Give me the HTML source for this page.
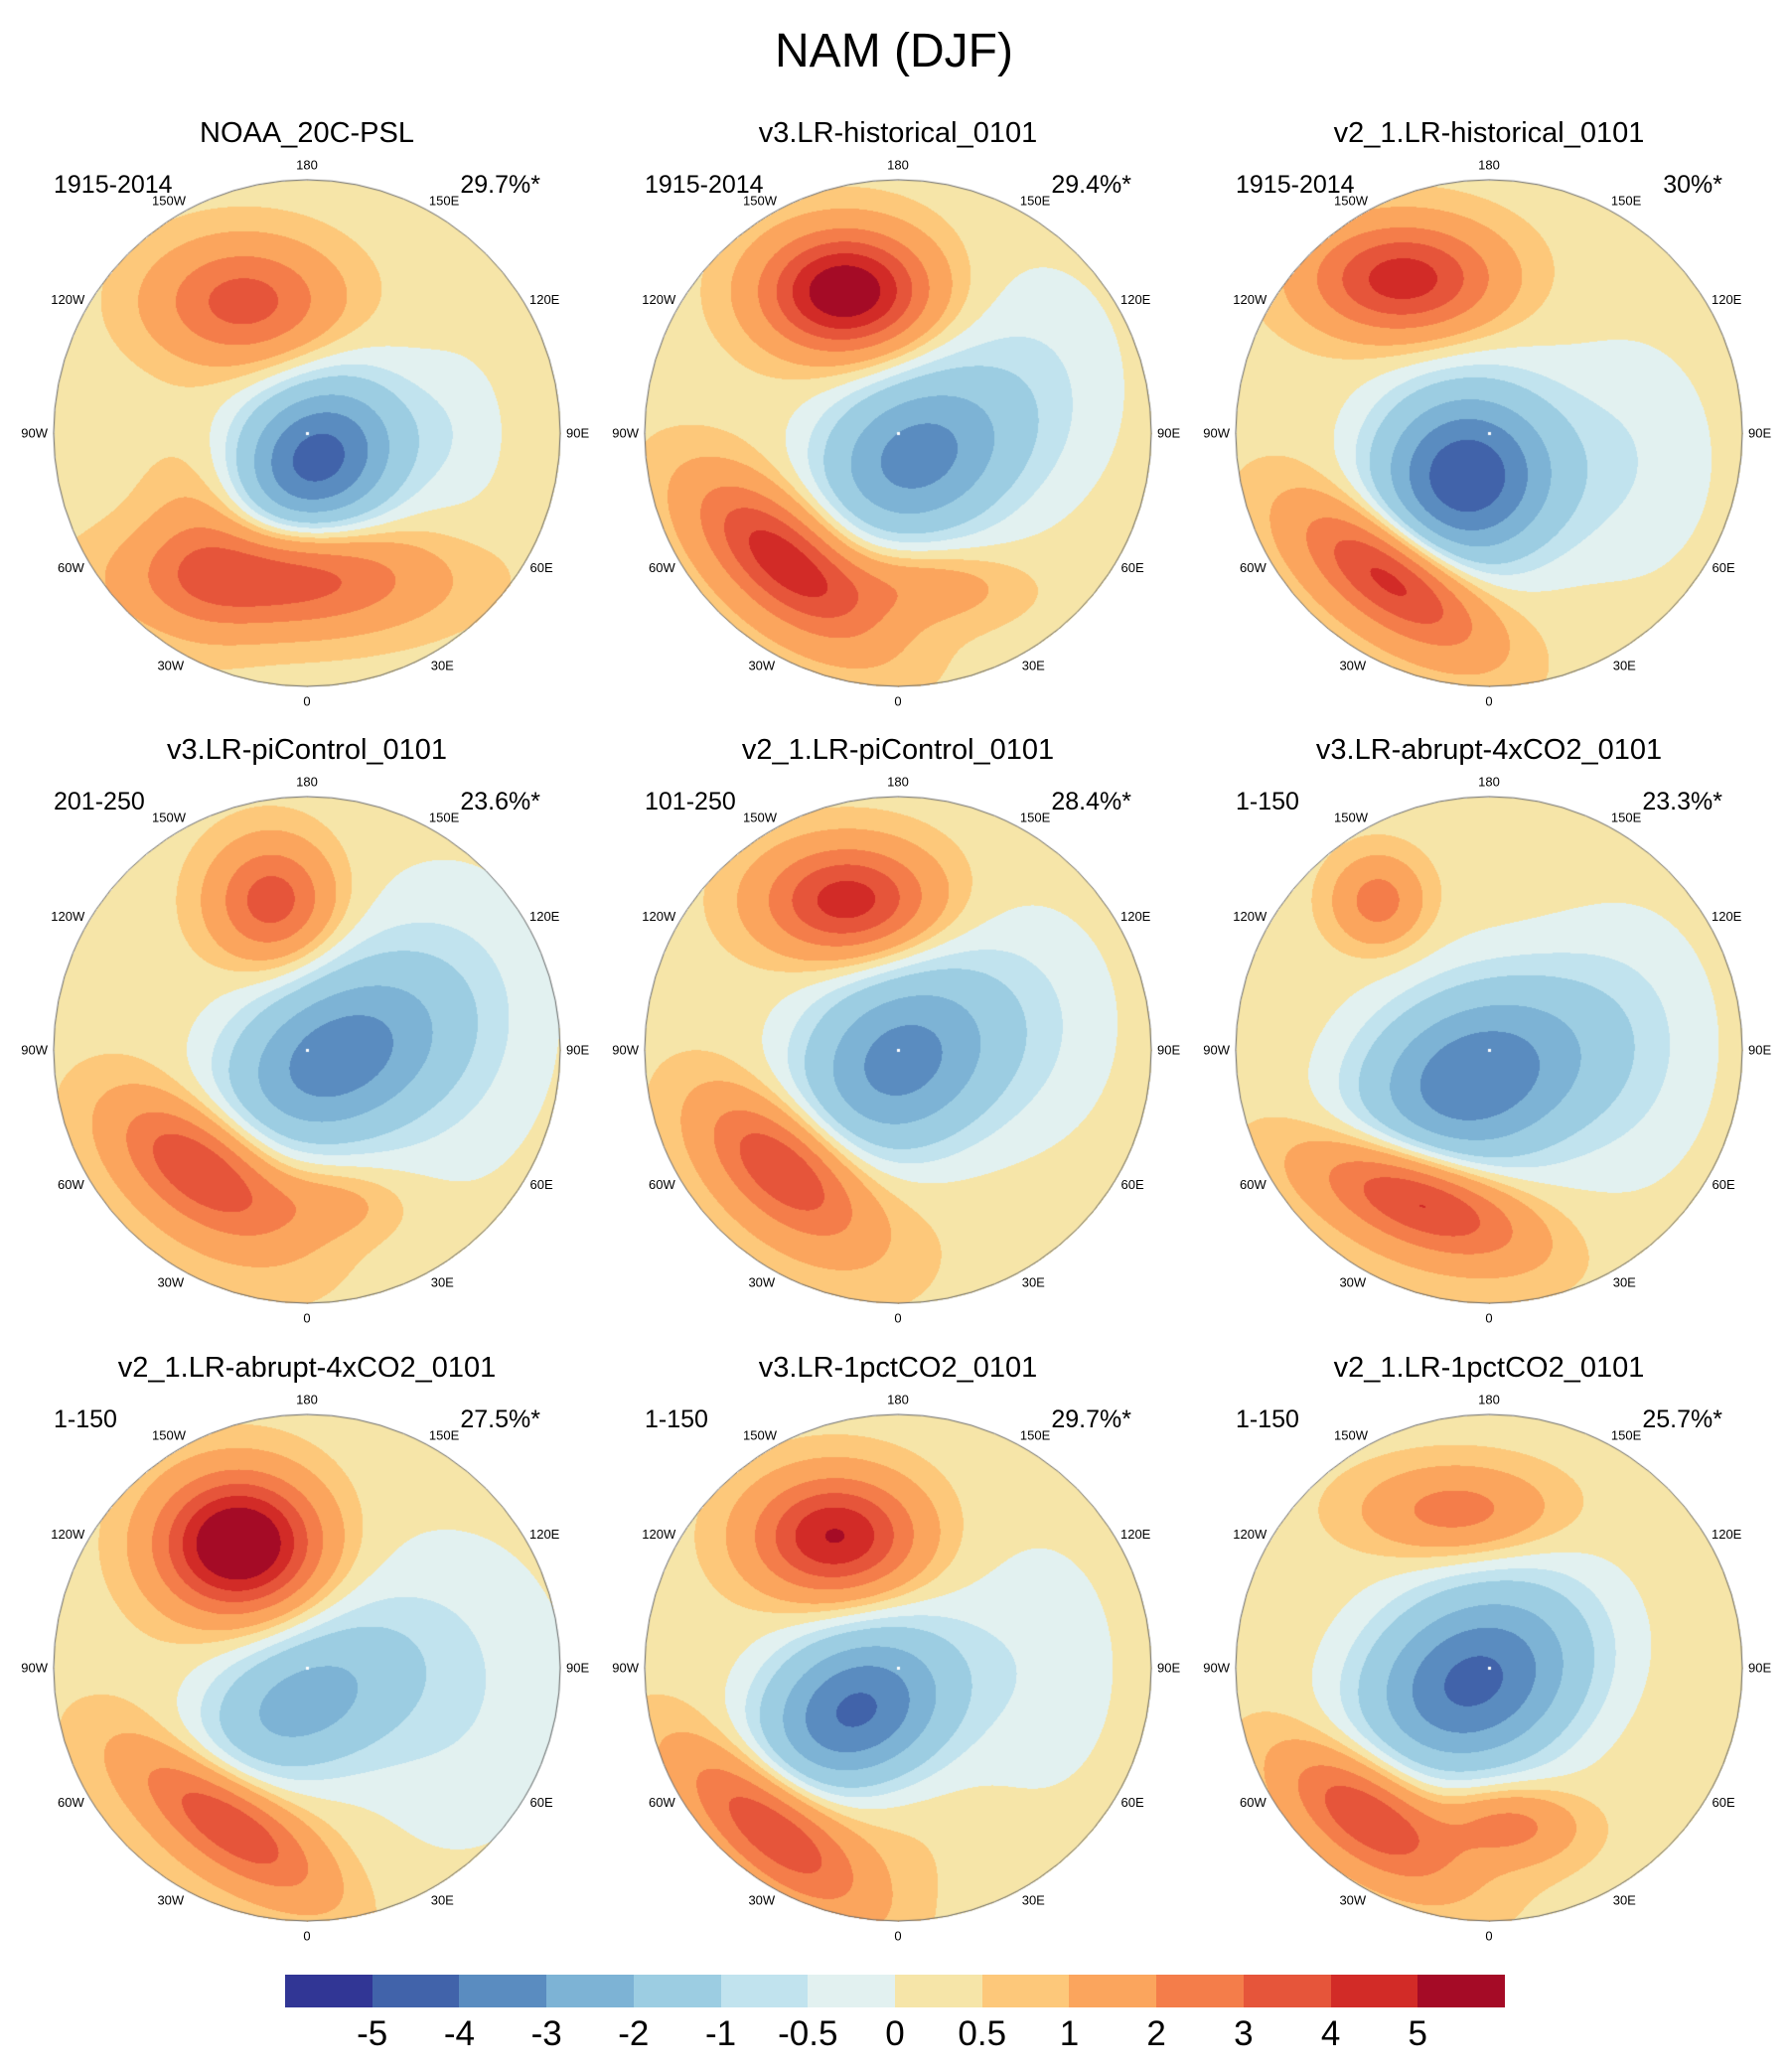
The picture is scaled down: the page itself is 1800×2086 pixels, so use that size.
<!DOCTYPE html>
<html><head><meta charset="utf-8">
<style>
body{margin:0;background:#fff;width:1800px;height:2086px;position:relative;overflow:hidden;font-family:"Liberation Sans",sans-serif}
.t{position:absolute;white-space:nowrap;color:#000}
canvas{position:absolute}
</style></head>
<body>
<div class="t" style="left:0;width:1800px;text-align:center;top:24px;font-size:48px">NAM (DJF)</div>
<div id="root"></div>
<script>
const titles=["NOAA_20C-PSL","v3.LR-historical_0101","v2_1.LR-historical_0101","v3.LR-piControl_0101","v2_1.LR-piControl_0101","v3.LR-abrupt-4xCO2_0101","v2_1.LR-abrupt-4xCO2_0101","v3.LR-1pctCO2_0101","v2_1.LR-1pctCO2_0101"];
const periods=["1915-2014","1915-2014","1915-2014","201-250","101-250","1-150","1-150","1-150","1-150"];
const pcts=["29.7%*","29.4%*","30%*","23.6%*","28.4%*","23.3%*","27.5%*","29.7%*","25.7%*"];
const levels=[-5,-4,-3,-2,-1,-0.5,0,0.5,1,2,3,4,5];
const colors=["#313695","#4163aa","#5a8cc0","#7db3d5","#9ccde2","#c1e3ee","#e2f1f0","#f6e5a8","#fdc87a","#fba55d","#f47d4a","#e6553a","#d22b27","#a50b26"];
const lonLabels=["0","30E","60E","90E","120E","150E","180","150W","120W","90W","60W","30W"];
const lonValues=[0,30,60,90,120,150,180,-150,-120,-90,-60,-30];
// blobs: [x, y, value, sx, sy, rotationDeg] in units of map radius
const blobs=[
 [[-0.25,-0.52,3.2,0.24,0.16,0],[0.04,0.1,-4.8,0.24,0.2,-35],[-0.1,0.57,3.6,0.38,0.14,0],[-0.4,0.4,1.2,0.16,0.24,0],[0.6,0.0,-0.5,0.15,0.25,0]],
 [[-0.21,-0.56,5.8,0.22,0.16,0],[0.06,0.1,-3.8,0.28,0.22,-30],[-0.46,0.49,3.8,0.28,0.13,40],[0.1,0.6,1.3,0.25,0.1,0],[0.55,-0.2,-0.7,0.25,0.35,0],[-0.35,0.55,0.8,0.35,0.25,30]],
 [[-0.34,-0.61,4.3,0.25,0.15,0],[-0.1,0.18,-5.3,0.25,0.24,-40],[-0.39,0.57,3.8,0.28,0.12,35],[0.55,0.1,-0.7,0.25,0.35,0],[-0.35,0.55,0.8,0.35,0.25,30]],
 [[-0.14,-0.59,3.3,0.16,0.16,0],[0.09,0.04,-3.8,0.32,0.22,-30],[-0.43,0.46,3.3,0.25,0.13,35],[0.1,0.6,1.0,0.2,0.1,0],[0.55,-0.1,-0.8,0.3,0.45,0],[-0.35,0.55,0.8,0.35,0.25,30]],
 [[-0.2,-0.59,4.3,0.23,0.15,0],[0.0,0.05,-3.8,0.3,0.24,-40],[-0.46,0.46,3.3,0.25,0.13,40],[0.55,-0.1,-0.6,0.25,0.35,0],[-0.35,0.55,0.8,0.35,0.25,30]],
 [[-0.44,-0.59,2.2,0.12,0.12,0],[-0.07,0.12,-4.3,0.34,0.24,-25],[-0.28,0.59,3.7,0.3,0.12,20],[0.55,0.0,-0.7,0.25,0.4,0],[-0.35,0.55,0.8,0.35,0.25,30]],
 [[-0.27,-0.49,6.5,0.21,0.18,0],[-0.06,0.16,-2.7,0.32,0.2,-30],[-0.32,0.61,3.2,0.3,0.11,35],[0.55,0.1,-0.8,0.35,0.45,0],[-0.35,0.55,0.8,0.35,0.25,30]],
 [[-0.25,-0.52,4.8,0.22,0.16,0],[-0.18,0.18,-4.7,0.28,0.21,-30],[-0.51,0.63,3.3,0.3,0.12,40],[0.55,0.0,-0.6,0.25,0.4,0],[-0.35,0.55,0.8,0.35,0.25,30]],
 [[-0.13,-0.62,2.2,0.25,0.12,0],[-0.07,0.06,-4.7,0.32,0.24,-30],[-0.49,0.58,3.3,0.25,0.12,35],[0.08,0.62,2.0,0.18,0.1,0],[-0.35,0.55,0.8,0.35,0.25,30]]
];
const colX=[309,904,1499],rowY=[436,1057,1679],R=255;
const root=document.getElementById('root');
const rgbs=colors.map(h=>[parseInt(h.substr(1,2),16),parseInt(h.substr(3,2),16),parseInt(h.substr(5,2),16)]);
function idx(v){let i=0;while(i<levels.length&&v>=levels[i])i++;return i;}
for(let p=0;p<9;p++){
 const cx=colX[p%3],cy=rowY[Math.floor(p/3)];
 const cv=document.createElement('canvas');
 
 
 cv.width=2*R+2;cv.height=2*R+2;
 cv.style.left=(cx-R-1)+'px';cv.style.top=(cy-R-1)+'px';
 root.appendChild(cv);
 const ctx=cv.getContext('2d');
 const img=ctx.createImageData(cv.width,cv.height);
 const bl=blobs[p].map(b=>{const a=b[5]*Math.PI/180;return [b[0],b[1],b[2],b[3],b[4],Math.cos(a),Math.sin(a)];});
 for(let j=0;j<cv.height;j++)for(let i=0;i<cv.width;i++){
  const x=(i-R-1)/R,y=(j-R-1)/R;
  if(x*x+y*y>1)continue;
  let v=0.3;
  for(const b of bl){const dx=x-b[0],dy=y-b[1];const u=dx*b[5]+dy*b[6],w=-dx*b[6]+dy*b[5];v+=b[2]*Math.exp(-(u*u/(2*b[3]*b[3])+w*w/(2*b[4]*b[4])));}
  const c=rgbs[idx(v)];const k=(j*cv.width+i)*4;
  img.data[k]=c[0];img.data[k+1]=c[1];img.data[k+2]=c[2];img.data[k+3]=255;
 }
 ctx.putImageData(img,0,0);
 ctx.beginPath();ctx.arc(R+1,R+1,R,0,2*Math.PI);ctx.strokeStyle='#666';ctx.lineWidth=1;ctx.stroke();
 ctx.fillStyle='#fff';ctx.fillRect(R,R,3,3);
 const t=document.createElement('div');t.className='t';
 
 
 t.style.cssText=`left:${cx-300}px;width:600px;text-align:center;top:${cy-318}px;font-size:29px`;
 t.textContent=titles[p];root.appendChild(t);
 const a=document.createElement('div');a.className='t';
 
 
 a.style.cssText=`left:${cx-255}px;top:${cy-264}px;font-size:25px`;
 a.textContent=periods[p];root.appendChild(a);
 const b=document.createElement('div');b.className='t';
 
 
 b.style.cssText=`left:${cx-65}px;width:300px;text-align:right;top:${cy-264}px;font-size:25px`;
 b.textContent=pcts[p];root.appendChild(b);
 for(let k=0;k<lonLabels.length;k++){
  const L=lonValues[k]*Math.PI/180,rr=R+6,s=Math.sin(L),c=Math.cos(L);
  const lx=cx+s*rr,ly=cy+c*rr;
  const d=document.createElement('div');d.className='t';
  
  
  d.style.cssText=`left:${lx}px;top:${ly}px;font-size:13px;line-height:15px;transform:translate(${-50+50*s}%,${-50+60*c}%)`;
  d.textContent=lonLabels[k];root.appendChild(d);
 }
}
const x0=287,x1=1515,w=(x1-x0)/colors.length;
for(let i=0;i<colors.length;i++){
 const s=document.createElement('div');
 
 
 s.style.cssText=`position:absolute;left:${x0+i*w}px;width:${w}px;top:1988px;height:33px;background:${colors[i]};`;
 root.appendChild(s);
}
for(let i=0;i<levels.length;i++){
 const d=document.createElement('div');d.className='t';
 
 
 d.style.cssText=`left:${x0+(i+1)*w-50}px;width:100px;text-align:center;top:2028px;font-size:35px`;
 d.textContent=levels[i];root.appendChild(d);
}
</script>
</body></html>
